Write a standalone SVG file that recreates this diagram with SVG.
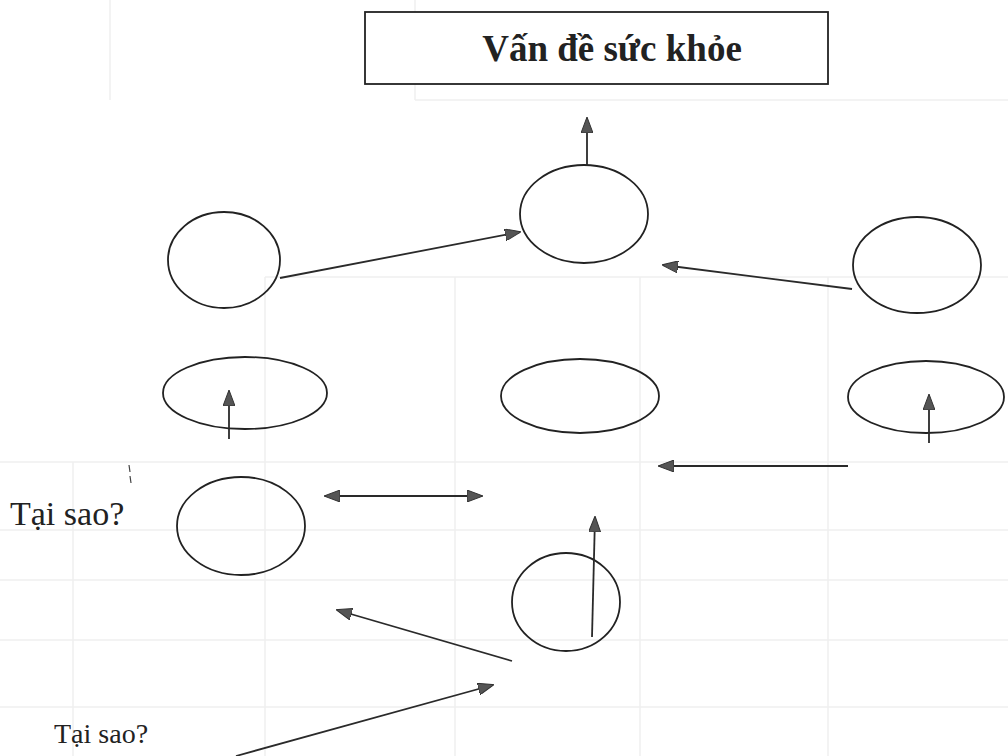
<svg xmlns="http://www.w3.org/2000/svg" width="1008" height="756" viewBox="0 0 1008 756">
<style>
.bg{stroke:#f0f0f0;stroke-width:1.5;fill:none}
.node{fill:none;stroke:#222;stroke-width:1.8}
.edge{stroke:#2a2a2a;stroke-width:1.8;fill:none;marker-end:url(#ah)}
.both{marker-start:url(#ahs)}
.t{font-family:"Liberation Serif","Times New Roman",serif;fill:#222}
</style>
<defs>
<marker id="ah" viewBox="0 0 16 12" refX="15" refY="6" markerWidth="16" markerHeight="12" markerUnits="userSpaceOnUse" orient="auto">
<path d="M0,0 L16,6 L0,12 Z" fill="#555" stroke="#333" stroke-width="1"/>
</marker>
<marker id="ahs" viewBox="0 0 16 12" refX="1" refY="6" markerWidth="16" markerHeight="12" markerUnits="userSpaceOnUse" orient="auto">
<path d="M16,0 L0,6 L16,12 Z" fill="#555" stroke="#333" stroke-width="1"/>
</marker>
</defs>
<rect width="1008" height="756" fill="#fff"/>
<g id="background">
<path class="bg" d="M110,0 V100 M415,0 V100 M415,100 H1008 M73,462 V756 M265,277 V756 M455,277 V756 M640,277 V756 M828,277 V756 M265,277 H1008 M0,462 H1008 M0,530 H1008 M0,580 H1008 M0,640 H1008 M0,707 H1008"/>
</g>
<g id="title">
<rect x="365" y="12" width="463" height="72" fill="#fff" stroke="#222" stroke-width="1.8"/>
<text class="t" x="612" y="61" font-size="37" font-weight="bold" text-anchor="middle">Vấn đề sức khỏe</text>
</g>
<g id="n-center-top"><ellipse class="node" cx="584" cy="214" rx="64" ry="49"/></g>
<g id="n-left-top"><ellipse class="node" cx="224" cy="260" rx="56" ry="48"/></g>
<g id="n-right-top"><ellipse class="node" cx="917" cy="265" rx="64" ry="48"/></g>
<g id="n-left-mid"><ellipse class="node" cx="245" cy="393" rx="82" ry="36"/></g>
<g id="n-center-mid"><ellipse class="node" cx="580" cy="396" rx="79" ry="37"/></g>
<g id="n-right-mid"><ellipse class="node" cx="926" cy="397" rx="78" ry="36"/></g>
<g id="n-left-low"><ellipse class="node" cx="241" cy="526" rx="64" ry="49"/></g>
<g id="n-center-low"><ellipse class="node" cx="566" cy="602" rx="54" ry="49"/></g>
<g id="labels">
<text class="t" x="10" y="525" font-size="34">Tại sao?</text>
<text class="t" x="54" y="743" font-size="28">Tại sao?</text>
<path d="M129,465 L130,472 M130,476 L131,483" stroke="#444" stroke-width="1.2"/>
</g>
<g id="connectors">
<path class="edge" d="M587,166 L587,118"/>
<path class="edge" d="M280,278 L520,232"/>
<path class="edge" d="M852,289 L663,265"/>
<path class="edge" d="M929,443 L929,395"/>
<path class="edge" d="M229,439 L229,391"/>
<path class="edge" d="M848,466 L659,466"/>
<path class="edge both" d="M325,496 L482,496"/>
<path class="edge" d="M592,637 L595,517"/>
<path class="edge" d="M512,661 L337,610"/>
<path class="edge" d="M236,756 L493,685"/>
</g>
</svg>
